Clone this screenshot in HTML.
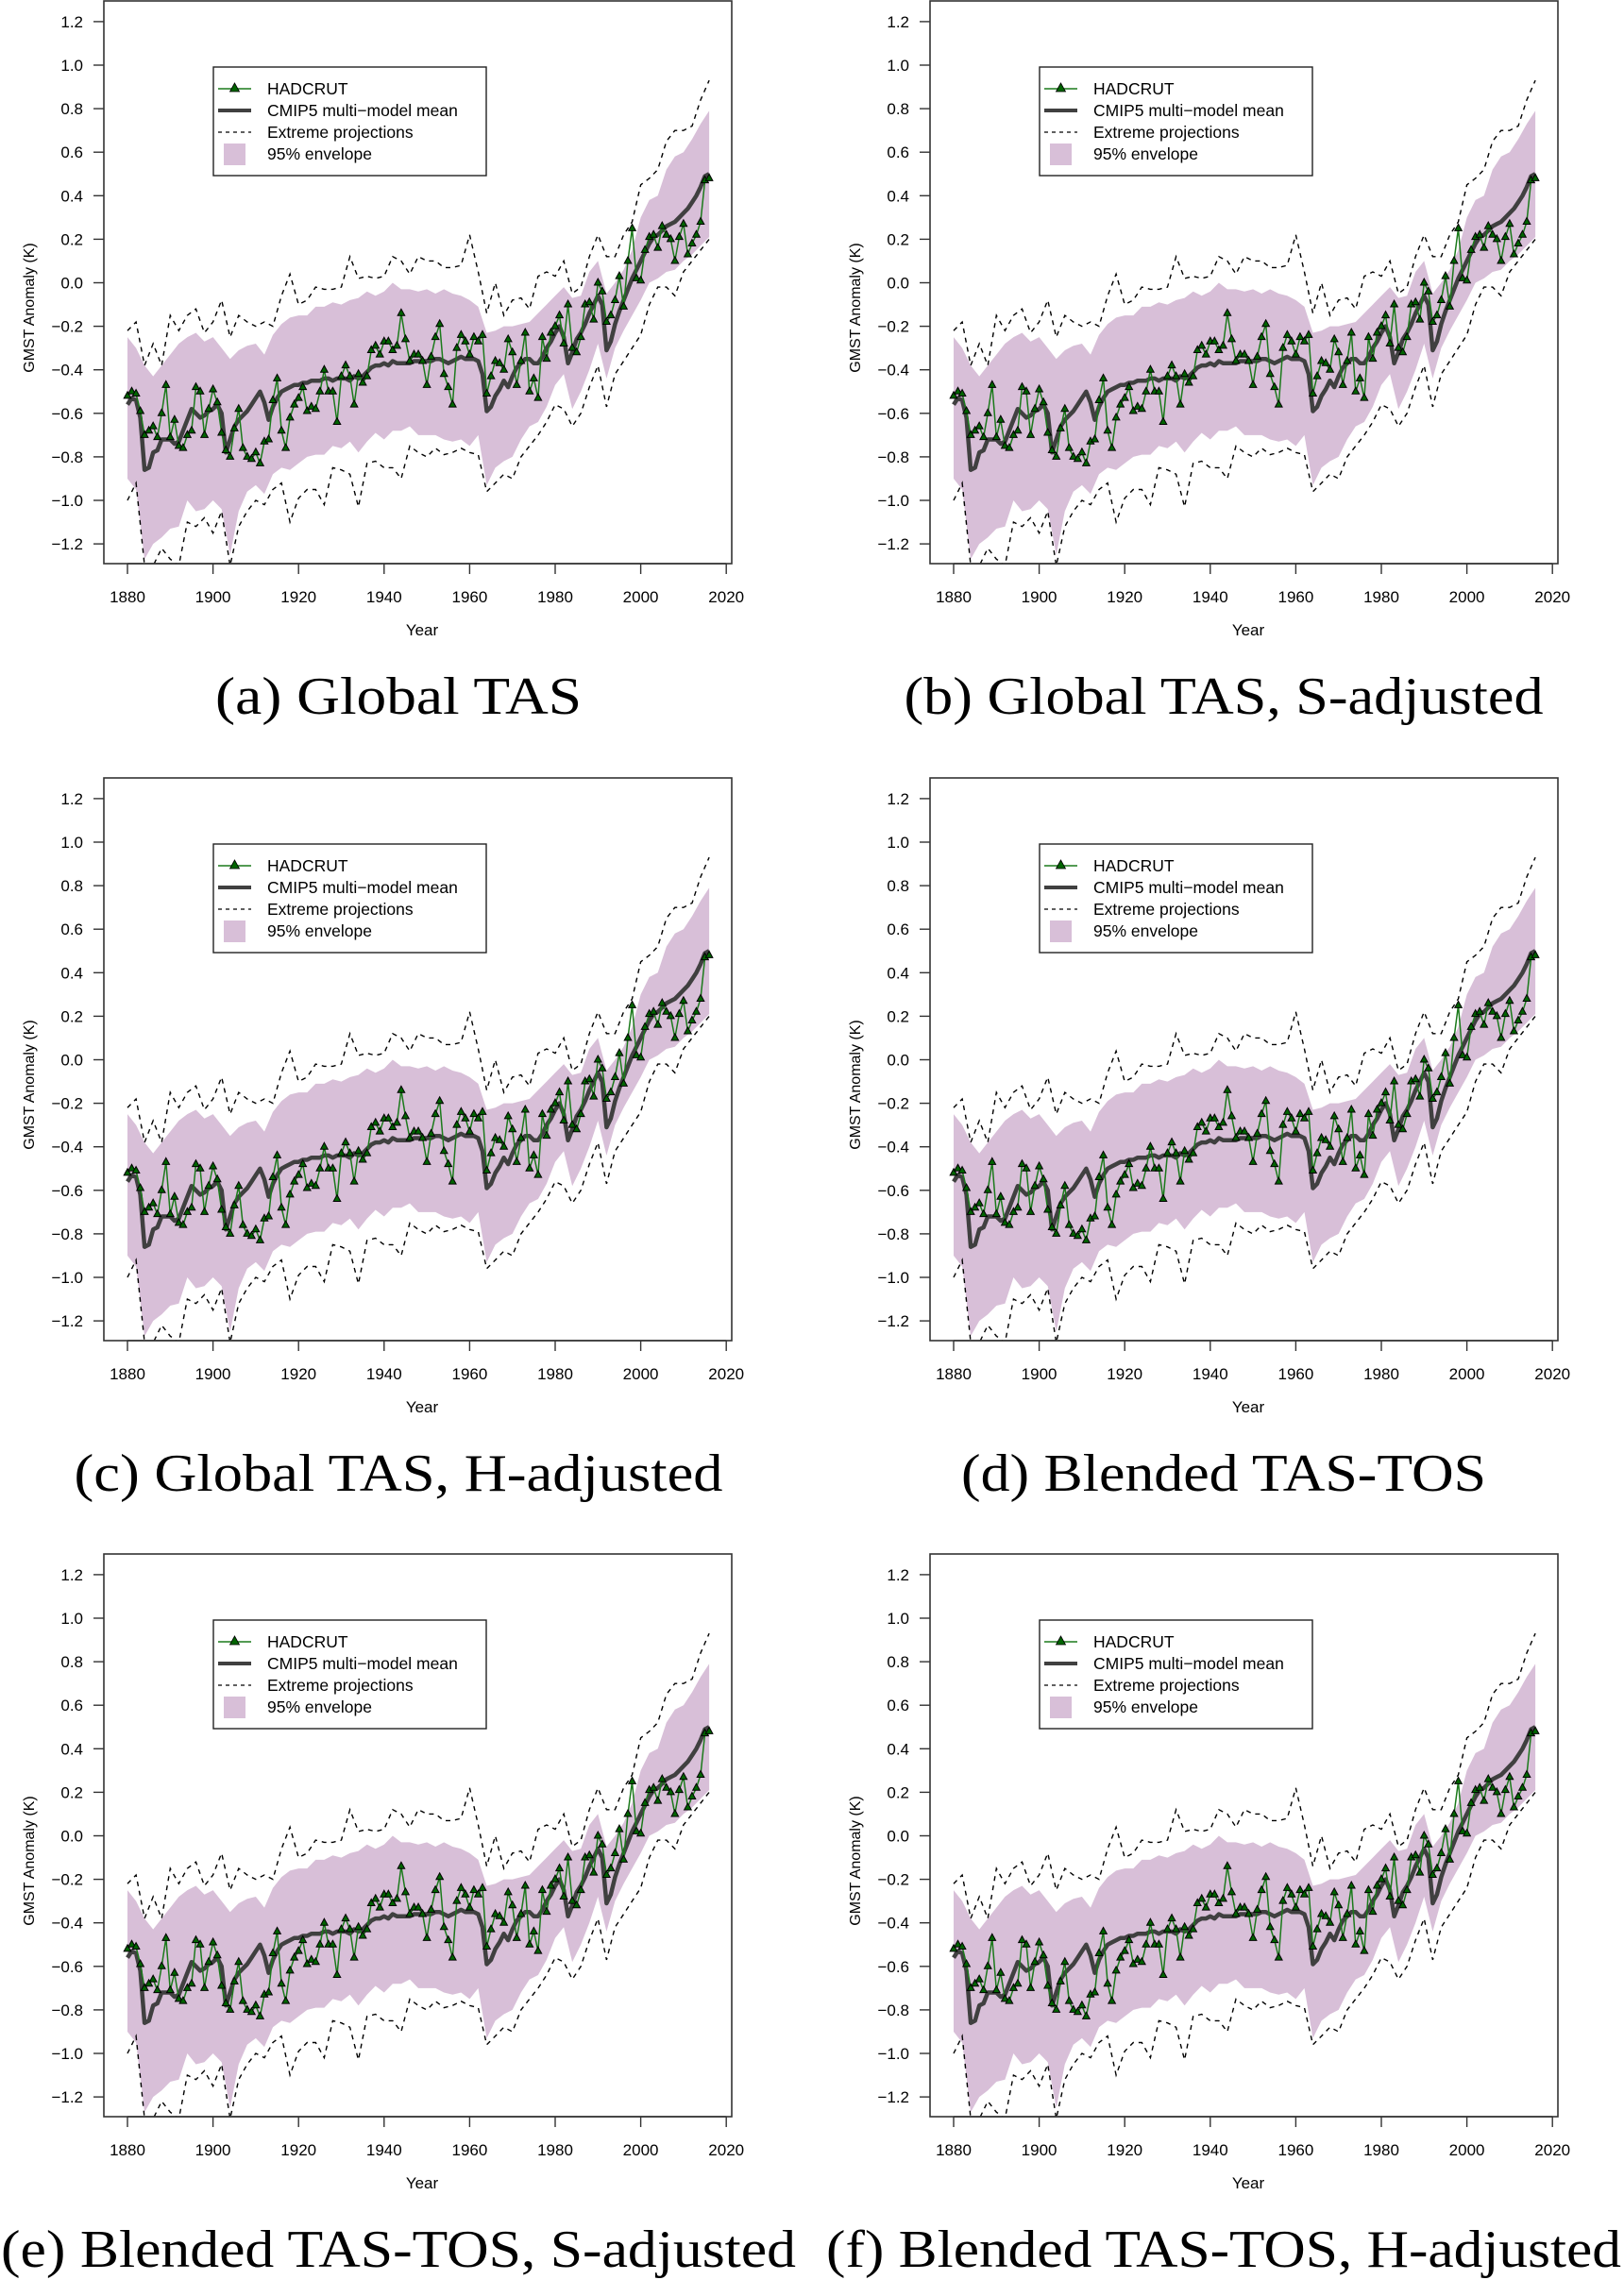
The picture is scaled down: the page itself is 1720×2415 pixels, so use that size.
<!DOCTYPE html>
<html><head><meta charset="utf-8">
<style>
html,body{margin:0;padding:0;background:#fff;}
svg{display:block;}
text{font-family:"Liberation Sans",Arial,sans-serif;}
.cap{font-family:"Liberation Serif","Times New Roman",serif;}
</style></head>
<body>
<svg id="fig" width="1720" height="2415" viewBox="0 0 1720 2415" xmlns="http://www.w3.org/2000/svg"></svg>
<script>
// ---- data ----
const years = []; for (let y = 1880; y <= 2016; y++) years.push(y);
const hadcrut = [-0.52,-0.50,-0.51,-0.59,-0.70,-0.68,-0.66,-0.71,-0.60,-0.47,-0.71,-0.63,-0.75,-0.76,-0.70,-0.68,-0.48,-0.50,-0.70,-0.58,
-0.49,-0.55,-0.69,-0.77,-0.80,-0.67,-0.58,-0.76,-0.80,-0.81,-0.78,-0.83,-0.73,-0.72,-0.54,-0.44,-0.68,-0.76,-0.62,-0.56,
-0.53,-0.48,-0.59,-0.57,-0.58,-0.50,-0.40,-0.50,-0.50,-0.64,-0.43,-0.38,-0.43,-0.56,-0.42,-0.46,-0.43,-0.31,-0.29,-0.33,
-0.27,-0.27,-0.31,-0.29,-0.14,-0.26,-0.36,-0.33,-0.33,-0.36,-0.47,-0.34,-0.25,-0.19,-0.42,-0.48,-0.56,-0.30,-0.24,-0.27,
-0.33,-0.25,-0.27,-0.24,-0.51,-0.43,-0.36,-0.37,-0.40,-0.26,-0.32,-0.47,-0.36,-0.23,-0.50,-0.44,-0.53,-0.25,-0.35,-0.23,
-0.20,-0.15,-0.28,-0.10,-0.30,-0.32,-0.25,-0.10,-0.09,-0.17,0.00,-0.04,-0.18,-0.15,-0.08,0.03,-0.11,0.10,0.25,0.02,
0.01,0.15,0.21,0.22,0.16,0.26,0.22,0.20,0.10,0.21,0.27,0.13,0.18,0.22,0.28,0.47,0.48];
const mmMean = [-0.56,-0.53,-0.54,-0.62,-0.86,-0.85,-0.78,-0.77,-0.72,-0.72,-0.72,-0.74,-0.73,-0.68,-0.63,-0.58,-0.60,-0.62,-0.61,-0.59,
-0.58,-0.56,-0.60,-0.78,-0.72,-0.66,-0.63,-0.61,-0.59,-0.56,-0.53,-0.50,-0.55,-0.63,-0.57,-0.53,-0.50,-0.49,-0.48,-0.47,
-0.47,-0.46,-0.46,-0.45,-0.45,-0.45,-0.44,-0.44,-0.45,-0.44,-0.44,-0.44,-0.45,-0.43,-0.44,-0.43,-0.41,-0.39,-0.38,-0.38,
-0.37,-0.38,-0.36,-0.37,-0.37,-0.37,-0.37,-0.36,-0.36,-0.36,-0.36,-0.36,-0.35,-0.35,-0.36,-0.37,-0.36,-0.35,-0.34,-0.35,
-0.35,-0.35,-0.36,-0.42,-0.59,-0.57,-0.52,-0.49,-0.45,-0.48,-0.43,-0.39,-0.37,-0.35,-0.35,-0.37,-0.37,-0.34,-0.30,-0.27,
-0.23,-0.20,-0.25,-0.37,-0.32,-0.26,-0.23,-0.19,-0.14,-0.10,-0.06,-0.10,-0.31,-0.27,-0.19,-0.13,-0.08,-0.03,0.02,0.06,
0.10,0.14,0.18,0.21,0.22,0.24,0.26,0.27,0.28,0.30,0.32,0.34,0.37,0.40,0.44,0.49,0.50];
const envYears = []; for (let y = 1880; y <= 2016; y += 2) envYears.push(y);
const envUpper = [-0.25,-0.30,-0.38,-0.43,-0.38,-0.33,-0.28,-0.25,-0.23,-0.27,-0.25,-0.30,-0.35,-0.31,-0.29,-0.28,-0.33,-0.24,-0.19,-0.16,
-0.15,-0.15,-0.11,-0.11,-0.09,-0.10,-0.08,-0.07,-0.04,-0.06,-0.04,0.00,-0.03,-0.03,-0.04,-0.03,-0.05,-0.03,-0.05,-0.06,
-0.08,-0.11,-0.23,-0.22,-0.20,-0.20,-0.19,-0.18,-0.14,-0.10,-0.06,-0.02,-0.07,-0.06,0.05,0.10,-0.05,0.00,0.06,0.15,
0.30,0.38,0.40,0.52,0.58,0.60,0.66,0.73,0.79];
const envLower = [-0.90,-0.95,-1.27,-1.20,-1.17,-1.13,-1.12,-1.00,-1.05,-1.04,-1.00,-1.04,-1.25,-1.05,-0.96,-0.93,-0.97,-0.88,-0.85,-0.86,
-0.83,-0.80,-0.79,-0.79,-0.75,-0.76,-0.73,-0.78,-0.73,-0.69,-0.72,-0.68,-0.68,-0.66,-0.70,-0.70,-0.70,-0.72,-0.73,-0.72,
-0.75,-0.70,-0.93,-0.85,-0.82,-0.80,-0.72,-0.66,-0.64,-0.57,-0.47,-0.42,-0.58,-0.50,-0.40,-0.28,-0.44,-0.30,-0.22,-0.15,
-0.08,0.00,0.02,0.05,0.06,0.10,0.13,0.17,0.21];
const extUpper = [-0.22,-0.18,-0.38,-0.28,-0.38,-0.15,-0.22,-0.15,-0.12,-0.23,-0.18,-0.08,-0.25,-0.15,-0.18,-0.20,-0.18,-0.20,-0.06,0.04,
-0.10,-0.08,-0.02,-0.03,-0.03,-0.02,0.12,0.02,0.03,0.02,0.03,0.12,0.10,0.04,0.12,0.10,0.10,0.07,0.07,0.08,
0.22,0.05,-0.14,0.00,-0.15,-0.08,-0.07,-0.12,0.03,0.05,0.03,0.10,-0.05,-0.02,0.12,0.22,0.12,0.12,0.22,0.28,
0.45,0.48,0.52,0.65,0.70,0.70,0.72,0.84,0.93];
const extLower = [-1.00,-0.92,-1.30,-1.30,-1.22,-1.27,-1.30,-1.10,-1.12,-1.08,-1.15,-1.05,-1.30,-1.12,-1.05,-1.00,-1.02,-0.95,-0.92,-1.10,
-0.99,-0.95,-0.95,-1.02,-0.85,-0.86,-0.88,-1.03,-0.83,-0.82,-0.85,-0.85,-0.90,-0.75,-0.78,-0.80,-0.76,-0.79,-0.78,-0.76,
-0.78,-0.79,-0.96,-0.92,-0.88,-0.90,-0.80,-0.75,-0.70,-0.64,-0.56,-0.58,-0.66,-0.60,-0.48,-0.38,-0.57,-0.42,-0.36,-0.30,
-0.24,-0.10,-0.02,-0.02,-0.06,0.05,0.10,0.15,0.20];
const yTicks = [-1.2,-1.0,-0.8,-0.6,-0.4,-0.2,0.0,0.2,0.4,0.6,0.8,1.0,1.2];
const yTickLabels = ["\u22121.2","\u22121.0","\u22120.8","\u22120.6","\u22120.4","\u22120.2","0.0","0.2","0.4","0.6","0.8","1.0","1.2"];
const xTicks = [1880,1900,1920,1940,1960,1980,2000,2020];
const captions = ["(a) Global TAS","(b) Global TAS, S-adjusted","(c) Global TAS, H-adjusted","(d) Blended TAS-TOS","(e) Blended TAS-TOS, S-adjusted","(f) Blended TAS-TOS, H-adjusted"];
const captionWidths = [388,677,687,556,842,842];

// ---- drawing ----
const NS = "http://www.w3.org/2000/svg";
const fig = document.getElementById('fig');
function mk(tag, attrs, parent){ const e=document.createElementNS(NS,tag); for(const k in attrs) e.setAttribute(k,attrs[k]); parent.appendChild(e); return e; }
const BX0=110, BX1=775, BY0=1, BY1=597;
function xs(yr){ return 135 + (yr-1880)*4.53; }
function ys(v){ return 299.5 - v*230.5; }
function pts(xsArr, vals){ return vals.map((v,i)=>xs(xsArr[i]).toFixed(1)+','+ys(v).toFixed(1)).join(' '); }

const offsets = [[0,0],[875,0],[0,823],[875,823],[0,1645],[875,1645]];
offsets.forEach((o,p)=>{
  const g = mk('g',{transform:`translate(${o[0]},${o[1]})`},fig);
  
  
  const cid='clip'+p;
  const cp=mk('clipPath',{id:cid},g); mk('rect',{x:BX0,y:BY0,width:BX1-BX0,height:BY1-BY0},cp);
  const plot=mk('g',{'clip-path':`url(#${cid})`},g);
  
  
  // envelope
  const envPts = pts(envYears,envUpper)+' '+envLower.map((v,i)=>xs(envYears[i]).toFixed(1)+','+ys(v).toFixed(1)).reverse().join(' ');
  const env=mk('polygon',{points:envPts,fill:'#d8bfd8',stroke:'none'},plot);
  
  
  const eu=mk('polyline',{points:pts(envYears,extUpper),fill:'none',stroke:'#000','stroke-width':1.4,'stroke-dasharray':'5,5'},plot);
  
  
  const el=mk('polyline',{points:pts(envYears,extLower),fill:'none',stroke:'#000','stroke-width':1.4,'stroke-dasharray':'5,5'},plot);
  
  
  const mm=mk('polyline',{points:pts(years,mmMean),fill:'none',stroke:'#404040','stroke-width':4.5,'stroke-linejoin':'round'},plot);
  
  
  const hl=mk('polyline',{points:pts(years,hadcrut),fill:'none',stroke:'#1b7a1b','stroke-width':1.5},plot);
  
  
  hadcrut.forEach((v,i)=>{
    const x=xs(years[i]), y=ys(v);
    const t=mk('polygon',{points:`${x},${y-4.5} ${x-3.8},${y+2.5} ${x+3.8},${y+2.5}`,fill:'#006400',stroke:'#000','stroke-width':1},plot);
    
    
  });
  // box
  const box=mk('rect',{x:BX0,y:BY0,width:BX1-BX0,height:BY1-BY0,fill:'none',stroke:'#333','stroke-width':1.6},g);
  
  
  // y axis
  yTicks.forEach((v,i)=>{
    mk('line',{x1:BX0-11,x2:BX0,y1:ys(v),y2:ys(v),stroke:'#333','stroke-width':1.4},g);
    const t=mk('text',{x:BX0-22,y:ys(v)+6,'text-anchor':'end','font-size':17,fill:'#000'},g);
    t.textContent=yTickLabels[i];
    
    
  });
  const yl=mk('text',{x:0,y:0,'text-anchor':'middle','font-size':16,transform:`translate(36,326) rotate(-90)`},g);
  yl.textContent='GMST Anomaly (K)';
  
  
  // x axis
  mk('line',{x1:xs(1880),x2:xs(2020),y1:BY1,y2:BY1,stroke:'#333','stroke-width':1.4},g);
  xTicks.forEach(yr=>{
    mk('line',{x1:xs(yr),x2:xs(yr),y1:BY1,y2:BY1+11,stroke:'#333','stroke-width':1.4},g);
    const t=mk('text',{x:xs(yr),y:638,'text-anchor':'middle','font-size':17},g);
    t.textContent=yr;
    
    
  });
  const xl=mk('text',{x:447,y:673,'text-anchor':'middle','font-size':17},g);
  xl.textContent='Year';
  
  
  // legend
  const lg=mk('g',{},g);
  
  
  mk('rect',{x:226,y:71,width:289,height:115,fill:'#fff',stroke:'#222','stroke-width':1.4},lg);
  const ly=[94,117,140,163];
  mk('line',{x1:231,x2:266,y1:ly[0],y2:ly[0],stroke:'#1b7a1b','stroke-width':1.5},lg);
  mk('polygon',{points:`248.5,${ly[0]-6} 243.5,${ly[0]+3} 253.5,${ly[0]+3}`,fill:'#006400',stroke:'#000','stroke-width':0.8},lg);
  mk('line',{x1:231,x2:266,y1:ly[1],y2:ly[1],stroke:'#404040','stroke-width':4},lg);
  mk('line',{x1:231,x2:266,y1:ly[2],y2:ly[2],stroke:'#000','stroke-width':1.3,'stroke-dasharray':'4,4'},lg);
  mk('rect',{x:237,y:ly[3]-11,width:23,height:23,fill:'#d8bfd8'},lg);
  ['HADCRUT','CMIP5 multi\u2212model mean','Extreme projections','95% envelope'].forEach((s,i)=>{
    const t=mk('text',{x:283,y:ly[i]+6,'font-size':17.5},lg);
    t.textContent=s;
    
    
  });
  // caption
  const cx = p%2===0 ? 422 : 421;
  const c=mk('text',{x:cx,y:756,'text-anchor':'middle','font-size':56,textLength:captionWidths[p],lengthAdjust:'spacingAndGlyphs',class:'cap'},g);
  c.textContent=captions[p];
  
  
});
</script>
</body></html>
